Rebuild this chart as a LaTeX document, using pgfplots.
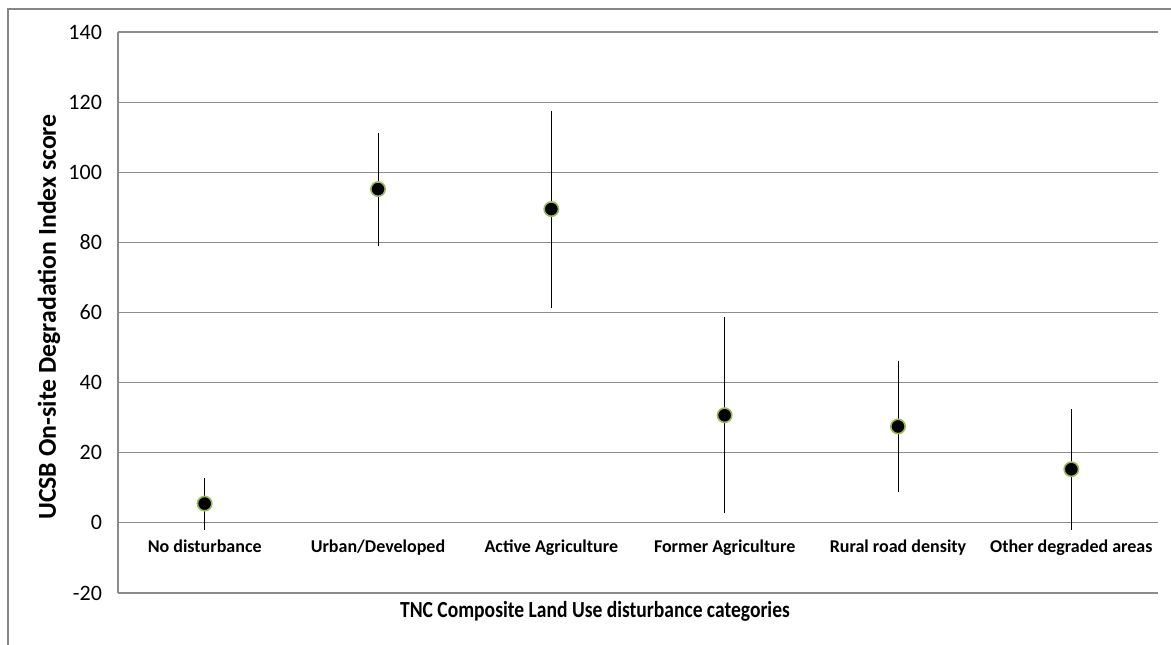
\documentclass[border=0pt]{standalone}
\usepackage{pgfplots}
\pgfplotsset{compat=1.18}
\usepackage{fontspec}
\setmainfont{Carlito}
\definecolor{gridgray}{HTML}{8C8C8C}
\definecolor{bordergray}{HTML}{868686}
\definecolor{mkgreen}{HTML}{9BBB59}
\begin{document}
\begin{tikzpicture}
\begin{axis}[
  at={(59pt,25.5pt)}, anchor=south west,
  scale only axis, width=520pt, height=280.5pt,
  xmin=-0.5, xmax=5.5, ymin=-20, ymax=140,
  ytick={-20,0,...,140},
  xtick={0,...,5},
  xticklabels={No disturbance, Urban/Developed, Active Agriculture, Former Agriculture, Rural road density, Other degraded areas},
  xticklabel style={anchor=base, yshift=20.5pt, font=\fontsize{9}{10}\selectfont\bfseries},
  yticklabel style={font=\fontsize{11}{12}\selectfont, xshift=-4.5pt},
  /pgf/number format/assume math mode=true,
  major tick length=0pt,
  tick style={draw=none},
  axis lines=left,
  axis line style={gridgray, line width=0.6pt, -},
  ymajorgrids,
  grid style={gridgray, line width=0.6pt},
  clip=false,
]
\addplot+[only marks, black, mark=*,
  mark size=3.6pt,
  mark options={fill=black, draw=mkgreen, line width=0.8pt},
  error bars/.cd, y dir=both, y explicit, error mark=none,
  error bar style={black, line width=0.5pt}]
  coordinates {
    (0,5.5) +- (0,7.4)
    (1,95.2) +- (0,16.1)
    (2,89.5) +- (0,28.1)
    (3,30.7) +- (0,28.0)
    (4,27.5) +- (0,18.6)
    (5,15.3) +- (0,17.3)
  };
\end{axis}
\node[font=\fontsize{11.5}{13}\selectfont\bfseries] at (297.5pt,16.5pt) {\scalebox{0.85}[1]{TNC Composite Land Use disturbance categories}};
\node[font=\fontsize{12.9}{14}\selectfont\bfseries, rotate=90] at (24.5pt,163.5pt) {UCSB On-site Degradation Index score};
\draw[bordergray, line width=1pt] (4pt,-5pt) -- (4pt,317.5pt) -- (595pt,317.5pt);
\pgfresetboundingbox
\useasboundingbox (0,0) rectangle (585.5pt,322pt);
\end{tikzpicture}
\end{document}
